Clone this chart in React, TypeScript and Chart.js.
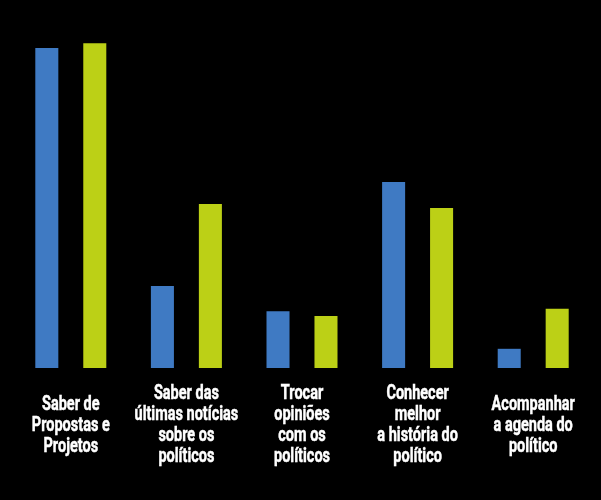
import React, { useEffect, useRef } from "react";
import { Chart, registerables } from "chart.js";

Chart.register(...registerables);

const categories: string[][] = [
  ["Saber de", "Propostas e", "Projetos"],
  ["Saber das", "últimas notícias", "sobre os", "políticos"],
  ["Trocar", "opiniões", "com os", "políticos"],
  ["Conhecer", "melhor", "a história do", "político"],
  ["Acompanhar", "a agenda do", "político"],
];

const seriesBlue: number[] = [80, 20.5, 14.2, 46.5, 4.8];
const seriesGreen: number[] = [81.2, 41, 13, 40, 14.8];

const BLUE = "#3f7ac3";
const GREEN = "#bcd016";

const LABEL_FONT = "bold 21px Roboto, 'DejaVu Sans', sans-serif";
const LABEL_SCALE_X = 0.69;
const LINE_GAP = 21;
const CAP = 15;
const LABEL_CENTER_OFFSET = 55; // from chart bottom to block centre

const condensedLabels = {
  id: "condensedLabels",
  afterDraw: (c: any) => {
    const scale = c.scales.x;
    const ctx = c.ctx;
    const centerY = c.chartArea.bottom + LABEL_CENTER_OFFSET;
    ctx.save();
    ctx.font = LABEL_FONT;
    ctx.fillStyle = "#ffffff";
    ctx.strokeStyle = "#ffffff";
    ctx.lineWidth = 0.5;
    ctx.textAlign = "center";
    ctx.textBaseline = "alphabetic";
    const labels = c.data.labels as string[][];
    labels.forEach((lines, i) => {
      const x = scale.getPixelForTick(i);
      const n = lines.length;
      const blockH = CAP + (n - 1) * LINE_GAP;
      const firstBaseline = centerY - blockH / 2 + CAP;
      lines.forEach((line, j) => {
        ctx.save();
        ctx.translate(x, firstBaseline + j * LINE_GAP);
        ctx.scale(LABEL_SCALE_X, 1);
        ctx.fillText(line, 0, 0);
        ctx.strokeText(line, 0, 0);
        ctx.restore();
      });
    });
    ctx.restore();
  },
};

export default function App() {
  const canvasRef = useRef<HTMLCanvasElement | null>(null);

  useEffect(() => {
    document.body.style.margin = "0";
    document.body.style.background = "#000";
    const canvas = canvasRef.current;
    if (!canvas) return;
    const chart = new Chart(canvas, {
      type: "bar",
      data: {
        labels: categories,
        datasets: [
          {
            label: "A",
            data: seriesBlue,
            backgroundColor: BLUE,
            borderWidth: 0,
            barPercentage: 0.48,
            categoryPercentage: 0.83,
          },
          {
            label: "B",
            data: seriesGreen,
            backgroundColor: GREEN,
            borderWidth: 0,
            barPercentage: 0.48,
            categoryPercentage: 0.83,
          },
        ],
      },
      options: {
        animation: false,
        responsive: false,
        maintainAspectRatio: false,
        layout: { padding: { left: 13, right: 10, top: 8, bottom: 0 } },
        plugins: {
          legend: { display: false },
          tooltip: { enabled: false },
        },
        scales: {
          x: {
            grid: { display: false, drawTicks: false },
            border: { display: false },
            ticks: { display: false },
            afterFit: (scale: any) => {
              scale.height = 132;
            },
          },
          y: {
            display: false,
            min: 0,
            max: 90,
          },
        },
      },
      plugins: [
        {
          id: "bg",
          beforeDraw: (c: any) => {
            const ctx = c.ctx;
            ctx.save();
            ctx.fillStyle = "#000";
            ctx.fillRect(0, 0, c.width, c.height);
            ctx.restore();
          },
        },
        condensedLabels,
      ],
    });
    return () => chart.destroy();
  }, []);

  return (
    <div style={{ width: 601, height: 500, background: "#000" }}>
      <canvas ref={canvasRef} width={601} height={500} style={{ display: "block" }} />
    </div>
  );
}
